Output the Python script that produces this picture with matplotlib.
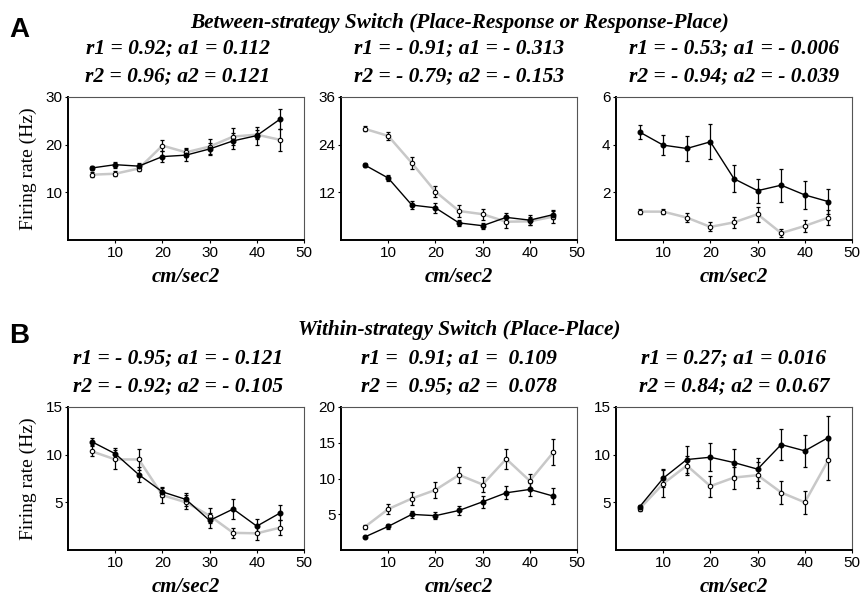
import numpy as np
import matplotlib
matplotlib.use('Agg')
import matplotlib.pyplot as plt

# acceleration bins (cm/sec2)
x = [5, 10, 15, 20, 25, 30, 35, 40, 45]

# A: between-strategy switch
a1_filled = [15.1, 15.8, 15.5, 17.5, 17.8, 19.1, 20.8, 21.9, 25.4]
a1_filled_err = [0.5, 0.6, 0.6, 1.2, 1.3, 1.3, 1.7, 1.9, 2.1]
a1_open = [13.7, 13.9, 15.0, 19.8, 18.4, 19.6, 21.7, 22.1, 21.0]
a1_open_err = [0.5, 0.5, 0.6, 1.2, 1.0, 1.5, 1.75, 1.0, 2.3]

a2_filled = [18.9, 15.6, 8.8, 8.1, 4.3, 3.6, 5.7, 5.0, 6.4]
a2_filled_err = [0.5, 0.8, 0.9, 1.2, 0.8, 0.8, 1.1, 1.2, 1.2]
a2_open = [28.0, 26.2, 19.4, 12.2, 7.3, 6.5, 4.6, 4.7, 5.9]
a2_open_err = [0.6, 0.9, 1.5, 1.5, 1.5, 1.4, 1.5, 1.0, 1.5]

a3_filled = [4.53, 3.98, 3.84, 4.12, 2.57, 2.07, 2.30, 1.89, 1.61]
a3_filled_err = [0.28, 0.43, 0.54, 0.73, 0.56, 0.5, 0.69, 0.6, 0.53]
a3_open = [1.19, 1.19, 0.94, 0.55, 0.74, 1.08, 0.29, 0.59, 0.94]
a3_open_err = [0.1, 0.12, 0.2, 0.19, 0.24, 0.32, 0.16, 0.26, 0.33]

# B: within-strategy switch
b1_filled = [11.37, 10.1, 7.9, 6.1, 5.3, 3.1, 4.3, 2.5, 3.9]
b1_filled_err = [0.4, 0.6, 0.8, 0.55, 0.7, 0.8, 1.05, 0.8, 0.8]
b1_open = [10.36, 9.5, 9.5, 5.75, 5.0, 3.6, 1.8, 1.75, 2.35]
b1_open_err = [0.5, 1.0, 1.1, 0.8, 0.75, 0.8, 0.55, 0.65, 0.8]

b2_filled = [1.81, 3.3, 4.98, 4.8, 5.53, 6.74, 8.0, 8.47, 7.53]
b2_filled_err = [0.2, 0.3, 0.45, 0.5, 0.6, 0.85, 0.9, 0.95, 1.15]
b2_open = [3.2, 5.72, 7.2, 8.4, 10.5, 9.16, 12.74, 9.67, 13.67]
b2_open_err = [0.3, 0.7, 0.85, 1.1, 1.1, 1.0, 1.45, 1.0, 1.85]

b3_filled = [4.53, 7.53, 9.49, 9.73, 9.17, 8.48, 11.06, 10.4, 11.8]
b3_filled_err = [0.2, 0.95, 1.4, 1.45, 1.4, 1.2, 1.65, 1.7, 2.3]
b3_open = [4.33, 6.95, 8.86, 6.7, 7.6, 7.85, 6.03, 5.0, 9.45]
b3_open_err = [0.2, 1.4, 1.0, 1.1, 1.15, 1.35, 1.25, 1.2, 2.1]

ylims = [30, 36, 6, 15, 20, 15]
yticks = [[10, 20, 30], [12, 24, 36], [2, 4, 6],
          [5, 10, 15], [5, 10, 15, 20], [5, 10, 15]]

stats = [
    ("r1 = 0.92; a1 = 0.112", "r2 = 0.96; a2 = 0.121"),
    ("r1 = - 0.91; a1 = - 0.313", "r2 = - 0.79; a2 = - 0.153"),
    ("r1 = - 0.53; a1 = - 0.006", "r2 = - 0.94; a2 = - 0.039"),
    ("r1 = - 0.95; a1 = - 0.121", "r2 = - 0.92; a2 = - 0.105"),
    ("r1 =  0.91; a1 =  0.109", "r2 =  0.95; a2 =  0.078"),
    ("r1 = 0.27; a1 = 0.016", "r2 = 0.84; a2 = 0.0.67"),
]

panels = [
    (a1_filled, a1_filled_err, a1_open, a1_open_err),
    (a2_filled, a2_filled_err, a2_open, a2_open_err),
    (a3_filled, a3_filled_err, a3_open, a3_open_err),
    (b1_filled, b1_filled_err, b1_open, b1_open_err),
    (b2_filled, b2_filled_err, b2_open, b2_open_err),
    (b3_filled, b3_filled_err, b3_open, b3_open_err),
]

W, H = 866, 599
fig = plt.figure(figsize=(W / 100, H / 100), dpi=100)

serif = 'Liberation Serif'
sans = 'Liberation Sans'

lefts = [68, 341, 616]
ax_w = 236
ax_h = 143
tops = [97, 407]


def fx(px):
    return px / W


def fy(py):
    return 1 - py / H


for i, (yf, yfe, yo, yoe) in enumerate(panels):
    row, col = divmod(i, 3)
    left = lefts[col]
    top = tops[row]
    ax = fig.add_axes([fx(left), fy(top + ax_h), ax_w / W, ax_h / H])

    # open circles, grey line
    ax.plot(x, yo, color='#c8c8c8', lw=1.8, zorder=2)
    ax.errorbar(x, yo, yerr=yoe, fmt='none', ecolor='black', elinewidth=0.9,
                capsize=1.3, capthick=0.9, zorder=3)
    ax.plot(x, yo, 'o', mfc='white', mec='black', ms=3.2, mew=0.8, zorder=5)

    # filled circles, black line
    ax.plot(x, yf, color='black', lw=1.0, zorder=4)
    ax.errorbar(x, yf, yerr=yfe, fmt='none', ecolor='black', elinewidth=0.9,
                capsize=1.3, capthick=0.9, zorder=4)
    ax.plot(x, yf, 'o', color='black', ms=3.3, zorder=6)

    ax.set_xlim(0, 50)
    ax.set_ylim(0, ylims[i])
    ax.set_xticks([10, 20, 30, 40, 50])
    ax.set_yticks(yticks[i])
    ax.tick_params(length=2, width=0.8, pad=2, labelsize=11)
    for lab in ax.get_xticklabels() + ax.get_yticklabels():
        lab.set_fontfamily(sans)
    for s in ['left', 'bottom']:
        ax.spines[s].set_linewidth(1.4)
        ax.spines[s].set_color('black')
    for s in ['top', 'right']:
        ax.spines[s].set_linewidth(0.8)
        ax.spines[s].set_color('#555555')

    ax.set_xlabel('cm/sec2', fontfamily=serif, fontweight='bold', fontstyle='italic',
                  fontsize=15, labelpad=5)
    if col == 0:
        ax.set_ylabel('Firing rate (Hz)', fontfamily=serif, fontsize=14, labelpad=6)

    cx = fx(left + ax_w / 2 - (8 if col == 0 else 0))
    s1, s2 = stats[i]
    fig.text(cx, fy(top - 49), s1, ha='center', va='center', fontfamily=serif,
             fontweight='bold', fontstyle='italic', fontsize=15.5)
    fig.text(cx, fy(top - 21), s2, ha='center', va='center', fontfamily=serif,
             fontweight='bold', fontstyle='italic', fontsize=15.5)

fig.text(fx(9), fy(30), 'A', ha='left', va='center', fontfamily=sans,
         fontweight='bold', fontsize=20)
fig.text(fx(9), fy(336), 'B', ha='left', va='center', fontfamily=sans,
         fontweight='bold', fontsize=20)
fig.text(fx(460), fy(23), 'Between-strategy Switch (Place-Response or Response-Place)',
         ha='center', va='center', fontfamily=serif, fontweight='bold',
         fontstyle='italic', fontsize=15.3)
fig.text(fx(459), fy(330), 'Within-strategy Switch (Place-Place)',
         ha='center', va='center', fontfamily=serif, fontweight='bold',
         fontstyle='italic', fontsize=15.3)

fig.savefig('out.png', dpi=100)
